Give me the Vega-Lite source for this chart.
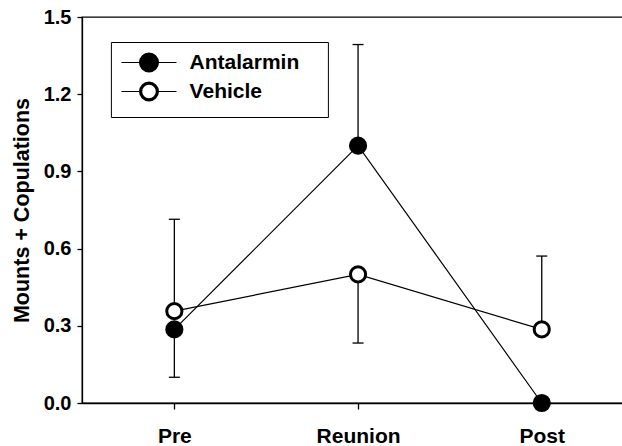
{
  "$schema": "https://vega.github.io/schema/vega-lite/v6.json",
  "width": 541,
  "height": 386,
  "autosize": {"type": "none"},
  "padding": {"left": 82, "top": 17, "right": 0, "bottom": 43},
  "background": "white",
  "config": {
    "view": {"stroke": "black", "strokeWidth": 1.3},
    "font": "Liberation Sans"
  },
  "data": {
    "values": [
      {"group": "Antalarmin", "phase": "Pre", "mean": 0.286, "lo": 0.1, "hi": 0.286},
      {"group": "Antalarmin", "phase": "Reunion", "mean": 1.0, "lo": 1.0, "hi": 1.393},
      {"group": "Antalarmin", "phase": "Post", "mean": 0.0, "lo": 0.0, "hi": 0.0},
      {"group": "Vehicle", "phase": "Pre", "mean": 0.357, "lo": 0.357, "hi": 0.714},
      {"group": "Vehicle", "phase": "Reunion", "mean": 0.5, "lo": 0.233, "hi": 0.5},
      {"group": "Vehicle", "phase": "Post", "mean": 0.286, "lo": 0.286, "hi": 0.571}
    ]
  },
  "encoding": {
    "x": {
      "field": "phase",
      "type": "nominal",
      "sort": ["Pre", "Reunion", "Post"],
      "scale": {"type": "point", "padding": 0.4725, "align": 0.532},
      "axis": {
        "title": null,
        "labelAngle": 0,
        "labelFont": "Liberation Sans",
        "labelFontSize": 21,
        "labelFontWeight": "bold",
        "labelColor": "black",
        "tickColor": "black",
        "tickSize": 6,
        "tickWidth": 1.3,
        "domainColor": "black",
        "domainWidth": 1.3,
        "labelPadding": 16,
        "grid": false
      }
    }
  },
  "layer": [
    {
      "mark": {"type": "rule", "color": "black", "strokeWidth": 1.3},
      "encoding": {
        "y": {
          "field": "lo",
          "type": "quantitative",
          "title": "Mounts + Copulations",
          "scale": {"domain": [0, 1.5], "nice": false, "zero": true},
          "axis": {
            "title": "Mounts + Copulations",
            "values": [0, 0.3, 0.6, 0.9, 1.2, 1.5],
            "format": ".1f",
            "grid": false,
            "labelFont": "Liberation Sans",
            "labelFontSize": 20,
            "labelFontWeight": "bold",
            "labelColor": "black",
            "tickColor": "black",
            "tickSize": 5,
            "tickWidth": 1.3,
            "domainColor": "black",
            "domainWidth": 1.3,
            "labelPadding": 6,
            "titleFont": "Liberation Sans",
            "titleFontSize": 21.5,
            "titleFontWeight": "bold",
            "titleColor": "black",
            "titleAngle": -90,
            "titleX": -54,
            "titleY": 193,
            "titleAlign": "center",
            "titleBaseline": "alphabetic"
          }
        },
        "y2": {"field": "hi"}
      }
    },
    {
      "mark": {"type": "tick", "color": "black", "thickness": 1.3, "size": 11, "orient": "horizontal", "opacity": 1},
      "encoding": {
        "y": {"field": "lo", "type": "quantitative", "title": "Mounts + Copulations"}
      }
    },
    {
      "mark": {"type": "tick", "color": "black", "thickness": 1.3, "size": 11, "orient": "horizontal", "opacity": 1},
      "encoding": {
        "y": {"field": "hi", "type": "quantitative", "title": "Mounts + Copulations"}
      }
    },
    {
      "mark": {"type": "line", "strokeWidth": 1.2, "color": "black"},
      "encoding": {
        "y": {"field": "mean", "type": "quantitative", "title": "Mounts + Copulations"},
        "order": {"value": null},
        "detail": {"field": "group", "type": "nominal"}
      }
    },
    {
      "mark": {"type": "point", "shape": "circle", "filled": true, "stroke": "black", "strokeWidth": 3, "size": 230, "opacity": 1},
      "encoding": {
        "y": {"field": "mean", "type": "quantitative", "title": "Mounts + Copulations"},
        "fill": {
          "field": "group",
          "type": "nominal",
          "scale": {"range": ["black", "white"]},
          "legend": {
            "orient": "none",
            "legendX": 28.9,
            "legendY": 25,
            "title": null,
            "symbolType": "M0,-3.4M0,2.6M33.3,0M-5.5,0H-1.88M1.88,0H5.5M1.88,0A1.88,1.88,0,1,1,-1.88,0A1.88,1.88,0,1,1,1.88,0ZM1.68,0A1.68,1.68,0,1,1,-1.68,0A1.68,1.68,0,1,1,1.68,0ZM1.48,0A1.48,1.48,0,1,1,-1.48,0A1.48,1.48,0,1,1,1.48,0Z",
            "symbolSize": 100,
            "symbolStrokeColor": "black",
            "symbolStrokeWidth": 1.2,
            "symbolOpacity": 1,
            "symbolOffset": 17.6,
            "labelFont": "Liberation Sans",
            "labelFontSize": 21,
            "labelFontWeight": "bold",
            "labelColor": "black",
            "labelOffset": 30.1,
            "rowPadding": -6,
            "padding": 10,
            "strokeColor": "black"
          }
        }
      }
    }
  ]
}
